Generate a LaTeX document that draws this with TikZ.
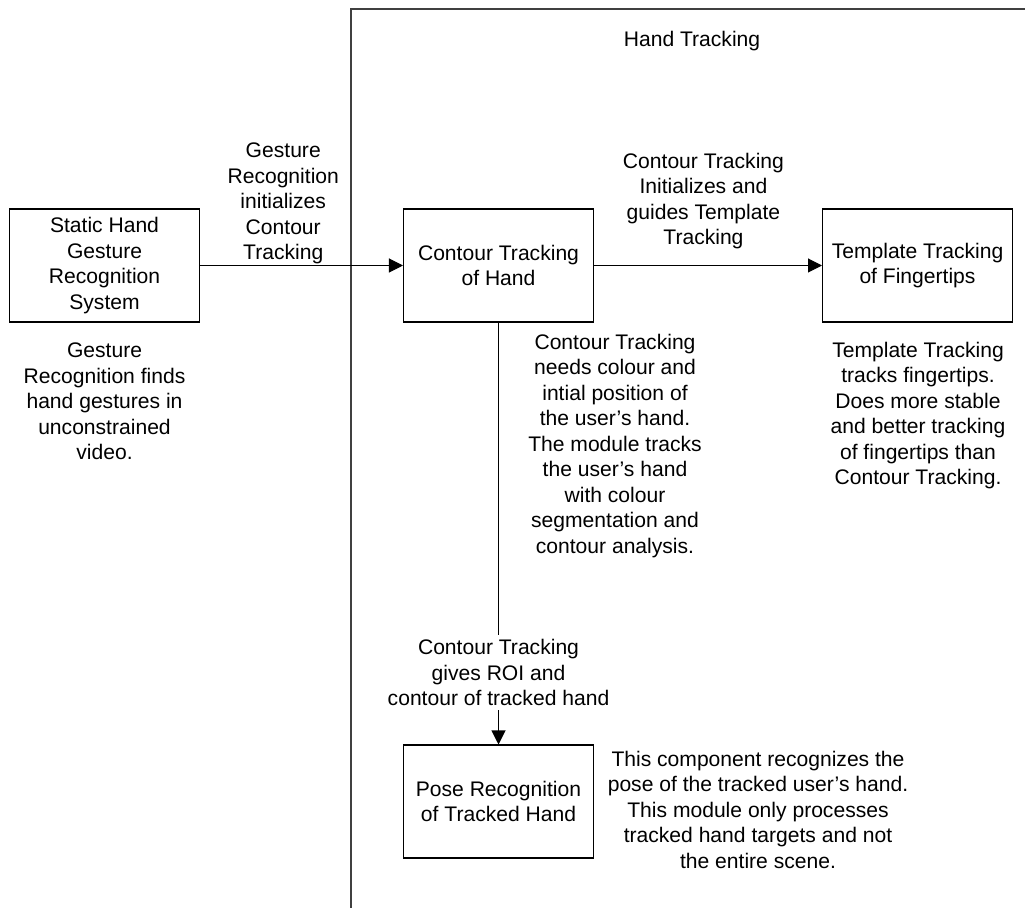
\documentclass[tikz,border=0pt]{standalone}
\usepackage{fontspec}
\setmainfont{Liberation Sans}
\usetikzlibrary{arrows.meta}

\begin{document}
\begin{tikzpicture}[x=0.02cm, y=-0.02cm, line width=0.6pt,
    every node/.style={font=\fontsize{12}{14.5}\selectfont, align=center},
    block/.style={draw, minimum width=3.8cm, minimum height=2.26cm, inner sep=2pt},
    note/.style={anchor=north, inner sep=0pt},
    flow/.style={-{Triangle[length=0.28cm, width=0.28cm]}}]
        \useasboundingbox (0,0) rectangle (1025,908);

        % Define coordinates of the lane border
        \coordinate (lane_bottom) at (351,908);
        \coordinate (lane_corner) at (351,9);
        \coordinate (lane_right) at (1025,9);

        % Draw the hand tracking lane
        \draw[black!75] (lane_bottom) -- (lane_corner) -- (lane_right);
        \node[anchor=base] (lane_title) at (692,46.5) {Hand Tracking};

        % Draw the module boxes
        \node[block] (gesture) at (104.5,265.5) {Static Hand\\Gesture\\Recognition\\System};
        \node[block] (contour) at (498.5,265.5) {Contour Tracking\\of Hand};
        \node[block] (template) at (917.5,265.5) {Template Tracking\\of Fingertips};
        \node[block] (pose) at (498.5,801.5) {Pose Recognition\\of Tracked Hand};

        % Draw the flow between the modules
        \draw[flow] (gesture) -- (contour)
            node[above=0.5pt, inner sep=0pt, pos=0.41] (gesture_label)
            {Gesture\\Recognition\\initializes\\Contour\\Tracking};
        \draw[flow] (contour) -- (template)
            node[above=0.32cm, inner sep=0pt, pos=0.48] (contour_label)
            {Contour Tracking\\Initializes and\\guides Template\\Tracking};
        \draw[flow] (contour) -- (pose)
            node[fill=white, inner sep=2.5pt, pos=0.83] (pose_label)
            {Contour Tracking\\gives ROI and\\contour of tracked hand};

        % Describe what each module does
        \node[note] (gesture_note) at (104.5,342.5)
            {Gesture\\Recognition finds\\hand gestures in\\unconstrained\\video.};
        \node[note] (contour_note) at (615,333.5)
            {Contour Tracking\\needs colour and\\intial position of\\the user’s hand.\\The module tracks\\the user’s hand\\with colour\\segmentation and\\contour analysis.};
        \node[note] (template_note) at (918,341.5)
            {Template Tracking\\tracks fingertips.\\Does more stable\\and better tracking\\of fingertips than\\Contour Tracking.};
        \node[note] (pose_note) at (758,750.5)
            {This component recognizes the\\pose of the tracked user’s hand.\\This module only processes\\tracked hand targets and not\\the entire scene.};
\end{tikzpicture}
\end{document}
